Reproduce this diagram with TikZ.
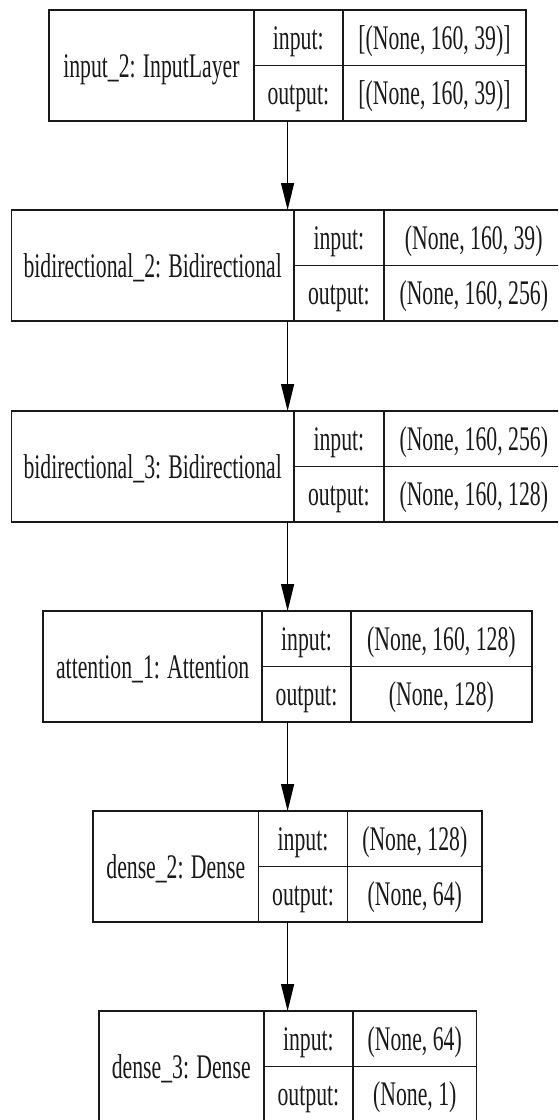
\documentclass[tikz,border=0pt]{standalone}
\usepackage{fontspec}
\setmainfont{Liberation Serif}[FakeStretch=0.63]
\usetikzlibrary{arrows.meta}
\tikzset{
  boxst/.style={draw=black!90, line width=1.8pt, inner sep=0pt, outer sep=0pt, minimum height=111pt},
  divst/.style={draw=black!90, line width=1.8pt},
  txt/.style={inner sep=0pt, font=\fontsize{34.5}{40}\selectfont, text=black!90, anchor=base},
  arr/.style={draw=black, line width=1.4pt, -{Triangle[length=27pt,width=13pt]}}
}
% #1 name, #2 top, #3 half width, #4 divider 1, #5 divider 2, #6 label, #7 input shape, #8 output shape
\newcommand\kerasbox[8]{%
  \pgfmathsetmacro\kL{287.6-#3}%
  \pgfmathsetmacro\kR{287.6+#3}%
  \pgfmathsetmacro\kCy{#2+55.5}%
  \pgfmathsetmacro\kB{#2+111}%
  \node[boxst, minimum width={2*#3pt}] (#1) at (287.6,\kCy) {};
  \draw[divst] (#4,#2) -- (#4,\kB) (#5,#2) -- (#5,\kB) (#4,\kCy) -- (\kR,\kCy);
  \node[txt] (#1-name) at ({(\kL+#4)/2},{#2+67}) {#6};
  \node[txt] (#1-inl) at ({(#4+#5)/2},{#2+39}) {input:};
  \node[txt] (#1-outl) at ({(#4+#5)/2},{#2+94.5}) {output:};
  \node[txt] (#1-ins) at ({(#5+\kR)/2},{#2+39}) {#7};
  \node[txt] (#1-outs) at ({(#5+\kR)/2},{#2+94.5}) {#8};
}
\begin{document}
\begin{tikzpicture}[x=1pt,y=-1pt]
\useasboundingbox (0,0) rectangle (558,1120);
\fill[white] (0,0) rectangle (558,1120);
\clip (0,0) rectangle (558,1120);
\kerasbox{b1}{10}{238.6}{253.8}{342.8}{input\_2: InputLayer}{[(None, 160, 39)]}{[(None, 160, 39)]}
\kerasbox{b2}{210}{276.2}{294}{383.8}{bidirectional\_2: Bidirectional}{(None, 160, 39)}{(None, 160, 256)}
\kerasbox{b3}{411}{276.2}{294}{383.8}{bidirectional\_3: Bidirectional}{(None, 160, 256)}{(None, 160, 128)}
\kerasbox{b4}{611}{244.3}{262}{351}{attention\_1: Attention}{(None, 160, 128)}{(None, 128)}
\kerasbox{b5}{811}{194.5}{258.5}{347.5}{dense\_2: Dense}{(None, 128)}{(None, 64)}
\kerasbox{b6}{1011}{188.9}{263.8}{353}{dense\_3: Dense}{(None, 64)}{(None, 1)}
\draw[arr] (b1.south) -- (b2.north);
\draw[arr] (b2.south) -- (b3.north);
\draw[arr] (b3.south) -- (b4.north);
\draw[arr] (b4.south) -- (b5.north);
\draw[arr] (b5.south) -- (b6.north);
\end{tikzpicture}
\end{document}
